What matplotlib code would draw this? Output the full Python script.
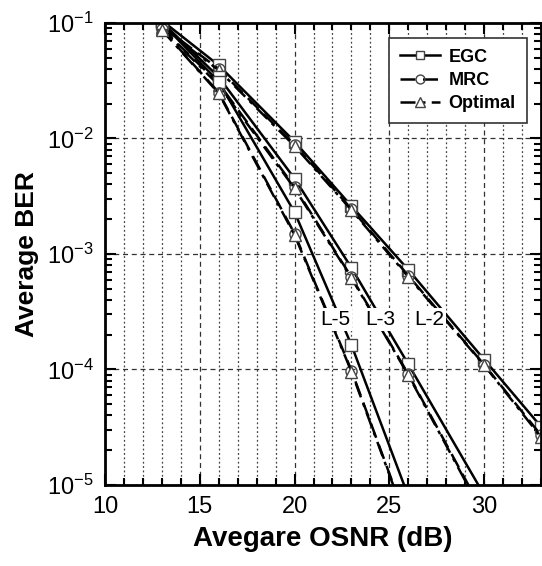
import numpy as np
import matplotlib
matplotlib.use('Agg')
import matplotlib.pyplot as plt
from matplotlib.ticker import MultipleLocator, LogLocator, NullFormatter

plt.rcParams['font.family'] = ['Liberation Sans', 'DejaVu Sans']
plt.rcParams['mathtext.fontset'] = 'custom'
plt.rcParams['mathtext.rm'] = 'Liberation Sans'
plt.rcParams['mathtext.it'] = 'Liberation Sans:italic'
plt.rcParams['mathtext.bf'] = 'Liberation Sans:bold'

# OSNR points (dB)
osnr_l2 = [13, 16, 20, 23, 26, 30, 33]
osnr_l3 = [13, 16, 20, 23, 26, 30]
osnr_l5 = [13, 16, 20, 23, 26]

# L-2 branch
egc_l2 = [0.105, 0.043, 9.4e-3, 2.6e-3, 7.3e-4, 1.22e-4, 3.2e-5]
mrc_l2 = [0.094, 0.040, 8.8e-3, 2.45e-3, 6.5e-4, 1.1e-4, 2.7e-5]
opt_l2 = [0.092, 0.039, 8.6e-3, 2.4e-3, 6.35e-4, 1.09e-4, 2.6e-5]

# L-3 branch
egc_l3 = [0.102, 0.034, 4.5e-3, 7.6e-4, 1.11e-4, 8.2e-6]
mrc_l3 = [0.090, 0.030, 3.8e-3, 6.3e-4, 9.1e-5, 5.6e-6]
opt_l3 = [0.089, 0.029, 3.7e-3, 6.2e-4, 8.95e-5, 5.4e-6]

# L-5 branch
egc_l5 = [0.1, 0.031, 2.3e-3, 1.63e-4, 8.0e-6]
mrc_l5 = [0.088, 0.025, 1.5e-3, 9.8e-5, 4.5e-6]
opt_l5 = [0.087, 0.0246, 1.46e-3, 9.6e-5, 4.4e-6]

branch_labels = ['L-5', 'L-3', 'L-2']
label_x = [22.15, 24.5, 27.1]
label_y = [2.7e-4, 2.7e-4, 2.7e-4]

fig = plt.figure(figsize=(5.42, 5.66), dpi=100)
ax = fig.add_axes([0.1937, 0.1431, 0.8045, 0.8163])

edge = '#444444'
egc_style = dict(color='black', lw=1.8, ls='-', marker='s', ms=8,
                 mfc='white', mec=edge, mew=1.0)
mrc_style = dict(color='black', lw=1.8, ls=(0, (6, 3)), marker='o', ms=8,
                 mfc='none', mec=edge, mew=1.0)
opt_style = dict(color='black', lw=1.8, ls=(0, (6, 2.5, 1.5, 2.5)), marker='^', ms=9,
                 mfc='white', mec=edge, mew=1.0)

ax.plot(osnr_l2, egc_l2, label='EGC', **egc_style)
ax.plot(osnr_l2, mrc_l2, label='MRC', **mrc_style)
ax.plot(osnr_l2, opt_l2, label='Optimal', **opt_style)
ax.plot(osnr_l3, egc_l3, **egc_style)
ax.plot(osnr_l3, mrc_l3, **mrc_style)
ax.plot(osnr_l3, opt_l3, **opt_style)
ax.plot(osnr_l5, egc_l5, **egc_style)
ax.plot(osnr_l5, mrc_l5, **mrc_style)
ax.plot(osnr_l5, opt_l5, **opt_style)

for lab, lx, ly in zip(branch_labels, label_x, label_y):
    ax.text(lx, ly, lab, fontsize=15, ha='center', va='center', zorder=5,
            bbox=dict(facecolor='white', edgecolor='none', pad=1.5))

ax.set_yscale('log')
ax.set_xlim(10, 33)
ax.set_ylim(1e-5, 1e-1)

ax.xaxis.set_major_locator(MultipleLocator(5))
ax.xaxis.set_minor_locator(MultipleLocator(1))
ax.yaxis.set_major_locator(LogLocator(base=10, numticks=10))
ax.yaxis.set_minor_locator(LogLocator(base=10, subs=np.arange(2, 10), numticks=10))
ax.yaxis.set_minor_formatter(NullFormatter())

ax.grid(which='major', axis='both', ls=(0, (4, 3)), color='#333333', lw=0.9)
ax.grid(which='minor', axis='x', ls=(0, (1.5, 2)), color='#444444', lw=0.9)

ax.tick_params(which='both', direction='in', top=True, right=True,
               labelsize=17, width=1.5, pad=8)
ax.tick_params(which='major', length=8)
ax.tick_params(which='minor', length=5)
for sp in ax.spines.values():
    sp.set_linewidth(2)

ax.set_xlabel('Avegare OSNR (dB)', fontsize=20, fontweight='bold', labelpad=6)
ax.set_ylabel('Average BER', fontsize=19, fontweight='bold', labelpad=6)

leg = ax.legend(loc='upper right', bbox_to_anchor=(0.967, 0.968),
                prop=dict(weight='bold', size=13), frameon=True, fancybox=False,
                handlelength=2.2, borderpad=0.6, labelspacing=0.35, handletextpad=0.5,
                markerscale=0.8, borderaxespad=0)
leg.get_frame().set_edgecolor('#333333')
leg.get_frame().set_linewidth(1.2)
leg.get_frame().set_alpha(1)
leg.set_zorder(6)

fig.savefig('out.png', dpi=100)
